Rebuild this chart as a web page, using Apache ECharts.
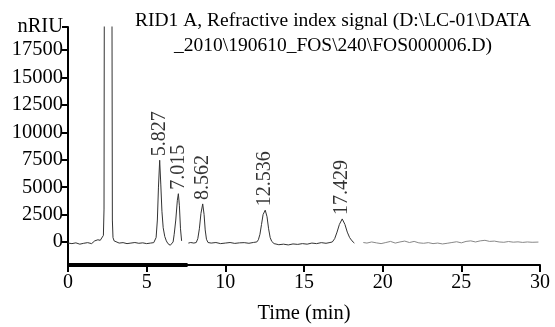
<!DOCTYPE html>
<html><head><meta charset="utf-8">
<script src="https://cdn.jsdelivr.net/npm/echarts@6/dist/echarts.min.js"></script>
<style>html,body{margin:0;padding:0;background:#fff}#c{width:555px;height:327px}</style>
</head><body><div id="c"></div>
<script>
// Trace, part 1 (0 - 18.25 min); null marks the break in the recorded trace
var timeA = [0.0,0.25,0.5,0.75,1.0,1.25,1.5,1.7,1.9,2.05,2.15,2.25,2.29,2.31,2.79,2.82,2.86,2.93,3.0,3.25,3.5,3.75,4.0,4.25,4.5,4.75,5.0,5.25,5.45,
  5.53,5.6,5.68,5.75,5.827,5.9,5.97,6.05,6.15,6.25,6.35,6.5,6.6,
  6.68,6.75,6.85,6.95,7.015,7.08,7.15,7.22,7.4,7.65,7.8,8.0,8.15,
  8.25,8.35,8.45,8.562,8.65,8.72,8.8,8.9,9.1,9.4,9.7,10.0,10.3,10.6,10.9,11.2,11.5,11.8,12.0,
  12.1,12.2,12.3,12.4,12.536,12.65,12.75,12.85,12.95,13.1,13.4,13.7,14.0,14.3,14.6,14.9,15.2,15.5,15.8,16.1,16.4,16.65,16.8,
  16.95,17.1,17.25,17.429,17.6,17.75,17.9,18.05,18.2];
var signalA = [-100,-150,-80,-200,-120,-60,-150,100,200,150,300,600,3000,25000,25000,2000,400,100,-50,-100,-60,-150,-100,-50,-120,-80,-150,-100,-60,
  -50,400,2000,5000,7450,5200,2800,1300,500,100,-150,-300,-250,
  0,700,2000,3800,4400,3300,1200,100,null,-100,-50,-100,-50,
  300,1200,2600,3470,2500,1100,250,-50,-100,-50,-150,-100,-50,-130,-80,-60,-120,-40,0,
  200,700,1600,2500,2900,2300,1200,400,50,-150,-250,-200,-270,-180,-220,-150,-200,-100,-150,-60,-120,-50,0,
  300,900,1600,2100,1600,900,400,100,-100];
// Trace, part 2 (18.77 - 29.9 min), drawn fainter in the reference
var timeB = [18.77,19.0,19.3,19.6,19.9,20.2,20.5,20.8,21.1,21.4,21.7,22.0,22.3,22.6,22.9,23.2,23.5,23.8,24.1,24.4,24.7,25.0,25.3,25.6,25.9,26.2,26.5,26.8,27.1,27.4,27.7,28.0,28.3,28.6,28.9,29.2,29.5,29.9];
var signalB = [-50,-100,0,-80,-150,-50,50,-100,0,80,-50,50,-80,-120,-60,-150,-100,-180,-120,-50,20,-80,50,100,0,100,150,50,80,0,-30,40,-20,10,-40,0,-30,-10];
// Labelled peaks
var peakTimes = [5.827, 7.015, 8.562, 12.536, 17.429];
var peakHeights = [7450, 4400, 3470, 2900, 2100];
var peakLabels = ['5.827', '7.015', '8.562', '12.536', '17.429'];
// Axes
var yTicks = [0, 2500, 5000, 7500, 10000, 12500, 15000, 17500, 19600];
var yTopLabel = 'nRIU';
var xTicks = [0, 5, 10, 15, 20, 25, 30];
var titleText = 'RID1 A, Refractive index signal (D:\\LC-01\\DATA\n_2010\\190610_FOS\\240\\FOS000006.D)';
var xName = 'Time (min)';

function pairs(t, v) { return t.map(function (x, i) { return [x, v[i]]; }); }

var font = '"Liberation Serif", "Times New Roman", serif';
var chart = echarts.init(document.getElementById('c'), null, {renderer: 'canvas'});
chart.setOption({
  animation: false,
  backgroundColor: '#fff',
  textStyle: {fontFamily: font, color: '#000'},
  title: {
    text: titleText, left: 328, top: 3, textAlign: 'center',
    textStyle: {fontFamily: font, fontSize: 19.5, fontWeight: 'normal', color: '#000', lineHeight: 25}
  },
  grid: {left: 68, right: 15, top: 27, bottom: 62, containLabel: false, outerBoundsMode: 'none'},
  xAxis: {
    type: 'value', min: 0, max: 30, interval: 5,
    name: xName, nameLocation: 'middle', nameGap: 38,
    nameTextStyle: {fontFamily: font, fontSize: 20.5, color: '#000'},
    axisLine: {onZero: false, lineStyle: {color: '#000', width: 2}},
    axisTick: {show: true, length: 7, lineStyle: {color: '#000', width: 2}},
    axisLabel: {fontFamily: font, fontSize: 20, color: '#000', margin: 8},
    splitLine: {show: false}
  },
  yAxis: {
    type: 'value', min: -2100, max: 19600,
    axisLine: {show: true, onZero: false, lineStyle: {color: '#000', width: 2}},
    axisTick: {show: true, length: 6, customValues: yTicks, lineStyle: {color: '#000', width: 2}},
    axisLabel: {
      fontFamily: font, fontSize: 20.5, color: '#000', margin: 5, customValues: yTicks,
      formatter: function (v) { return v === yTicks[yTicks.length - 1] ? yTopLabel : String(v); }
    },
    splitLine: {show: false}
  },
  series: [
    {
      type: 'line', data: pairs(timeA, signalA), showSymbol: false, symbol: 'none',
      clip: true, connectNulls: false,
      lineStyle: {color: '#333', width: 1},
      markLine: {
        silent: true, symbol: 'none', label: {show: false},
        lineStyle: {color: '#000', width: 4, type: 'solid'},
        data: [[{coord: [0, -2100]}, {coord: [7.6, -2100]}]]
      }
    },
    {
      type: 'line', data: pairs(timeB, signalB), showSymbol: false, symbol: 'none',
      clip: true, lineStyle: {color: '#888', width: 1}
    },
    {
      type: 'scatter', data: pairs(peakTimes, peakHeights), symbolSize: 0,
      label: {
        show: true, position: 'top', distance: 4, rotate: 90,
        align: 'left', verticalAlign: 'middle',
        fontFamily: font, fontSize: 20, color: '#000',
        formatter: function (p) { return peakLabels[p.dataIndex]; }
      }
    }
  ]
});
</script></body></html>
